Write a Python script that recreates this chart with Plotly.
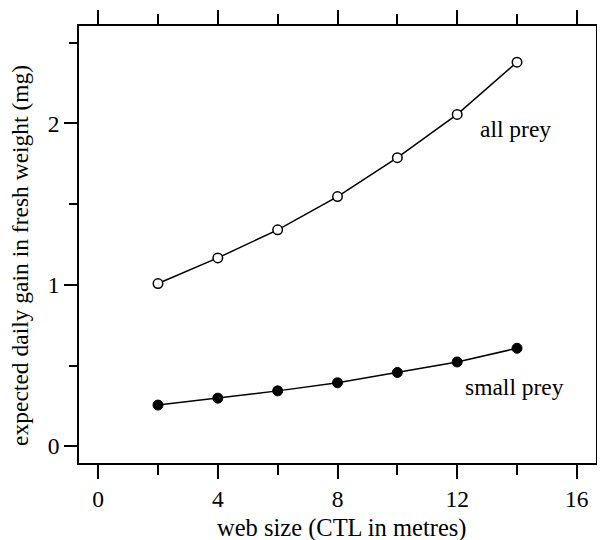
import plotly.graph_objects as go

web_size = [2, 4, 6, 8, 10, 12, 14]
all_prey = [1.008, 1.167, 1.341, 1.547, 1.788, 2.056, 2.38]
small_prey = [0.255, 0.298, 0.343, 0.393, 0.457, 0.522, 0.607]
x_ticks = [0, 4, 8, 12, 16]
y_ticks = [0, 1, 2]

FONT = "Liberation Serif"
FS = 23.5

fig = go.Figure()
fig.add_trace(go.Scatter(
    x=web_size, y=all_prey, mode="lines+markers",
    line=dict(color="black", width=1.5),
    marker=dict(symbol="circle", size=9.5, color="white",
                line=dict(color="black", width=1.5)),
    showlegend=False))
fig.add_trace(go.Scatter(
    x=web_size, y=small_prey, mode="lines+markers",
    line=dict(color="black", width=1.5),
    marker=dict(symbol="circle", size=10, color="black",
                line=dict(color="black", width=1)),
    showlegend=False))

fig.add_annotation(x=12.69, y=1.968, xref="x", yref="y", text="all prey",
                   showarrow=False, xanchor="left", yanchor="middle",
                   font=dict(family=FONT, size=FS, color="black"))
fig.add_annotation(x=12.18, y=0.366, xref="x", yref="y", text="small prey",
                   showarrow=False, xanchor="left", yanchor="middle",
                   font=dict(family=FONT, size=FS, color="black"))

fig.add_annotation(x=0.507, y=-0.149, xref="paper", yref="paper",
                   text="web size (CTL in metres)", showarrow=False,
                   xanchor="center", yanchor="middle",
                   font=dict(family=FONT, size=24.5, color="black"))
fig.add_annotation(x=-0.114, y=0.474, xref="paper", yref="paper",
                   text="expected daily gain in fresh weight (mg)", showarrow=False,
                   textangle=-90, xanchor="center", yanchor="middle",
                   font=dict(family=FONT, size=FS, color="black"))

fig.update_xaxes(
    range=[-0.64, 16.64], tickmode="array", tickvals=x_ticks,
    ticktext=[str(v) for v in x_ticks], automargin=False,
    ticks="outside", ticklen=14, tickwidth=1.5, tickcolor="black",
    minor=dict(dtick=2, tick0=0, ticks="outside", ticklen=10, tickwidth=1.5,
               tickcolor="black", showgrid=False),
    showline=True, linecolor="black", linewidth=1.5, mirror="ticks",
    showgrid=False, zeroline=False,
    tickfont=dict(family=FONT, size=FS, color="black"))
fig.update_yaxes(
    range=[-0.104, 2.604], tickmode="array", tickvals=y_ticks,
    ticktext=[str(v) for v in y_ticks], automargin=False,
    ticks="outside", ticklen=13, tickwidth=1.5, tickcolor="black",
    minor=dict(dtick=0.5, tick0=0, ticks="outside", ticklen=8, tickwidth=1.5,
               tickcolor="black", showgrid=False),
    showline=True, linecolor="black", linewidth=1.5, mirror="ticks",
    showgrid=False, zeroline=False,
    tickfont=dict(family=FONT, size=FS, color="black"))

fig.update_layout(
    width=597, height=532,
    margin=dict(l=71, r=9, t=18, b=77),
    paper_bgcolor="white", plot_bgcolor="white",
    font=dict(family=FONT, size=FS, color="black"))

fig.write_html("out.html")
